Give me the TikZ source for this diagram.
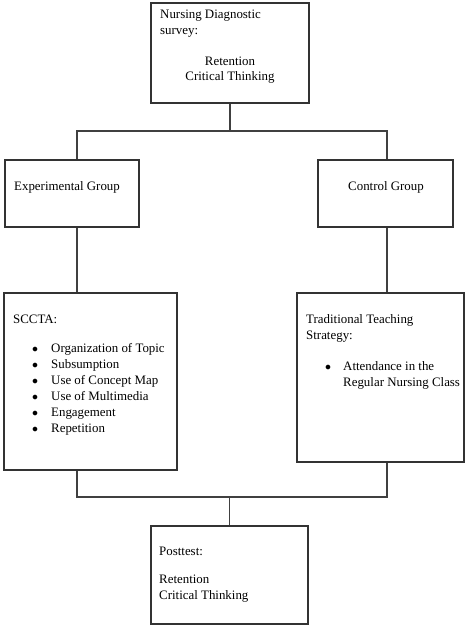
\documentclass[tikz,border=0pt]{standalone}
\usepackage{fontspec}
\setmainfont{Liberation Serif}
\usetikzlibrary{calc}

\begin{document}
\begin{tikzpicture}[x=1bp,y=-1bp,
  box/.style={draw=black!80,line width=1.1bp,inner sep=0pt},
  conn/.style={draw=black!75,line width=1.1bp},
  txt/.style={anchor=base west,inner sep=0pt,font=\fontsize{12.9bp}{15bp}\selectfont},
  ctxt/.style={txt,anchor=base},
  dot/.style={txt,font=\fontsize{13bp}{15bp}\selectfont}]
  \useasboundingbox (0,0) rectangle (474,625);
  % boxes
  \path (230,53) node[box,minimum width=158bp,minimum height=100bp] (top) {}
  (72,193.5) node[box,minimum width=134bp,minimum height=67bp] (exp) {}
  (385.5,193.5) node[box,minimum width=135bp,minimum height=67bp] (ctrl) {}
  (90.5,381.5) node[box,minimum width=173bp,minimum height=177bp] (sccta) {}
  (380.5,377.5) node[box,minimum width=167bp,minimum height=169bp] (trad) {}
  (229.5,575) node[box,minimum width=157bp,minimum height=98bp] (post) {};
  % connectors
  \coordinate (tl) at (77,131);
  \coordinate (tr) at (387,131);
  \coordinate (bl) at (77,497);
  \coordinate (br) at (387,497);
  \draw[conn] (top.south) -- (top.south |- tl);
  \draw[conn] (exp.north -| tl) -- (tl) -- (tr) -- (ctrl.north -| tr);
  \draw[conn] (exp.south -| tl) -- (sccta.north -| tl);
  \draw[conn] (ctrl.south -| tr) -- (trad.north -| tr);
  \draw[conn] (sccta.south -| bl) -- (bl) -- (br) -- (trad.south -| br);
  \draw[conn] (post.north |- bl) -- (post.north);
  % texts
  \path (160,19) node[txt] (nds1) {Nursing Diagnostic}
  (160,35) node[txt] (nds2) {survey:}
  (230,66) node[ctxt] (topRet) {Retention}
  (230,81) node[ctxt] (topCrit) {Critical Thinking};
  \path (14,190) node[txt] (expTxt) {Experimental Group}
  (386,190) node[ctxt] (ctrlTxt) {Control Group};
  \path (13,323.5) node[txt] (scctaTxt) {SCCTA:};
  \foreach \itm [count=\i] in {Organization of Topic,Subsumption,Use of Concept Map,Use of Multimedia,Engagement,Repetition}
    \path (32,{336+16*\i}) node[dot] (sDot\i) {$\bullet$}
    (51,{336+16*\i}) node[txt] (sItem\i) {\itm};
  \path (306,323) node[txt] (tradTxt1) {Traditional Teaching}
  (306,339) node[txt] (tradTxt2) {Strategy:}
  (325,370) node[dot] (tDot) {$\bullet$}
  (343,370) node[txt] (tItem1) {Attendance in the}
  (343,386) node[txt] (tItem2) {Regular Nursing Class};
  \path (159,555) node[txt] (postTxt) {Posttest:}
  (159,583) node[txt] (postRet) {Retention}
  (159,599) node[txt] (postCrit) {Critical Thinking};
\end{tikzpicture}
\end{document}
